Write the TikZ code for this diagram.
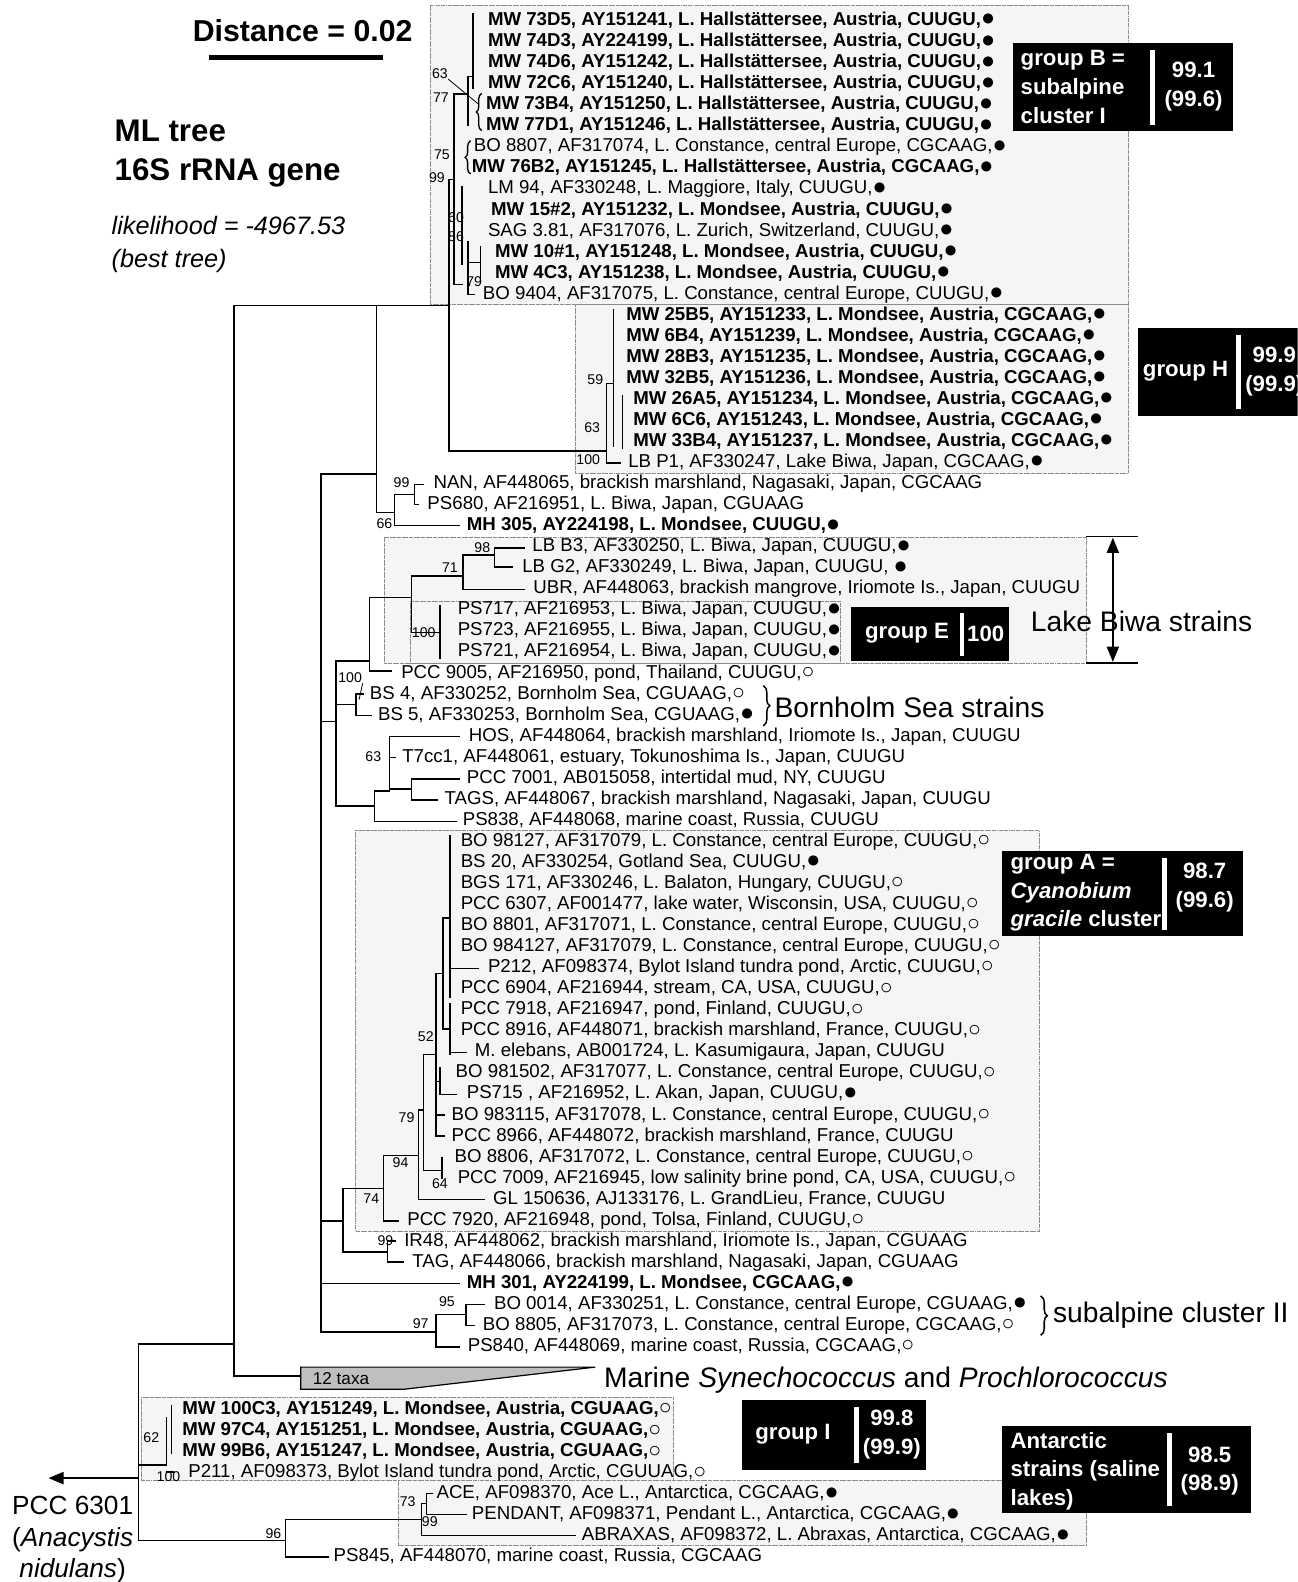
\documentclass[tikz,border=0pt]{standalone}
\usepackage{fontspec}
\setmainfont{Liberation Sans}
\usetikzlibrary{arrows.meta,decorations.pathreplacing}
\newcommand{\cf}{\raisebox{-0.4pt}{\scalebox{1.25}{●}}}
\newcommand{\co}{\raisebox{-0.3pt}{\scalebox{1.15}{○}}}
\begin{document}
\begin{tikzpicture}[x=1pt, y=-1pt, line width=1.4pt, line cap=rect, >={Triangle[length=15pt, width=12pt]},
  rleaf/.style={anchor=west, inner sep=0pt, text height=13pt, text depth=4pt, font=\fontsize{18.5}{20}\selectfont},
  bleaf/.style={rleaf, font=\fontsize{18.5}{20}\selectfont\bfseries},
  boot/.style={inner sep=0pt, font=\fontsize{14}{15}\selectfont},
  shade/.style={draw=black!45, densely dotted, line width=0.7pt, fill=black!4},
  boxtxt/.style={inner sep=0pt, text=white, align=left, font=\fontsize{22}{28.5}\selectfont\bfseries},
  bigtxt/.style={inner sep=0pt, anchor=west, font=\fontsize{28}{30}\selectfont},
  curly/.style={decorate, decoration={brace, amplitude=6pt}, line width=1.5pt}]
\useasboundingbox (0,0) rectangle (1286,1568);
\clip (0,0) rectangle (1286,1568);

\draw[shade] (427,5) rectangle (1118,302);
\draw[shade] (570,302) rectangle (1118,469);
\draw[shade] (381,533) rectangle (1077,657);
\draw[shade] (407,596) rectangle (833,657);
\draw[shade] (352,823) rectangle (1030,1220);
\draw[shade] (140,1385) rectangle (667,1467);
\draw[shade] (395,1467) rectangle (1077,1532);

\node[font=\fontsize{30}{32}\selectfont\bfseries] (dist) at (300,30) {Distance = 0.02};
\draw[line width=4pt, line cap=butt] (207,57) -- (380,57);
\node[anchor=west, align=left, inner sep=0pt, font=\fontsize{31}{39}\selectfont\bfseries] (title) at (113,152) {ML tree\\16S rRNA gene};
\node[anchor=west, align=left, inner sep=0pt, font=\fontsize{25}{33}\selectfont\itshape] (lik) at (110,242) {likelihood = -4967.53\\(best tree)};

\foreach \r/\x/\s/\t in {
  1/483/bleaf/{MW 73D5, AY151241, L. Hallstättersee, Austria, CUUGU,\cf},
  2/483/bleaf/{MW 74D3, AY224199, L. Hallstättersee, Austria, CUUGU,\cf},
  3/483/bleaf/{MW 74D6, AY151242, L. Hallstättersee, Austria, CUUGU,\cf},
  4/483/bleaf/{MW 72C6, AY151240, L. Hallstättersee, Austria, CUUGU,\cf},
  5/481/bleaf/{MW 73B4, AY151250, L. Hallstättersee, Austria, CUUGU,\cf},
  6/481/bleaf/{MW 77D1, AY151246, L. Hallstättersee, Austria, CUUGU,\cf},
  7/469/rleaf/{BO 8807, AF317074, L. Constance, central Europe, CGCAAG,\cf},
  8/467/bleaf/{MW 76B2, AY151245, L. Hallstättersee, Austria, CGCAAG,\cf},
  9/483/rleaf/{LM 94, AF330248, L. Maggiore, Italy, CUUGU,\cf},
  10/486/bleaf/{MW 15\#2, AY151232, L. Mondsee, Austria, CUUGU,\cf},
  11/483/rleaf/{SAG 3.81, AF317076, L. Zurich, Switzerland, CUUGU,\cf},
  12/490/bleaf/{MW 10\#1, AY151248, L. Mondsee, Austria, CUUGU,\cf},
  13/490/bleaf/{MW 4C3, AY151238, L. Mondsee, Austria, CUUGU,\cf},
  14/478/rleaf/{BO 9404, AF317075, L. Constance, central Europe, CUUGU,\cf},
  15/620/bleaf/{MW 25B5, AY151233, L. Mondsee, Austria, CGCAAG,\cf},
  16/620/bleaf/{MW 6B4, AY151239, L. Mondsee, Austria, CGCAAG,\cf},
  17/620/bleaf/{MW 28B3, AY151235, L. Mondsee, Austria, CGCAAG,\cf},
  18/620/bleaf/{MW 32B5, AY151236, L. Mondsee, Austria, CGCAAG,\cf},
  19/627/bleaf/{MW 26A5, AY151234, L. Mondsee, Austria, CGCAAG,\cf},
  20/627/bleaf/{MW 6C6, AY151243, L. Mondsee, Austria, CGCAAG,\cf},
  21/627/bleaf/{MW 33B4, AY151237, L. Mondsee, Austria, CGCAAG,\cf},
  22/622/rleaf/{LB P1, AF330247, Lake Biwa, Japan, CGCAAG,\cf},
  23/429/rleaf/{NAN, AF448065, brackish marshland, Nagasaki, Japan, CGCAAG},
  24/423/rleaf/{PS680, AF216951, L. Biwa, Japan, CGUAAG},
  25/462/bleaf/{MH 305, AY224198, L. Mondsee, CUUGU,\cf},
  26/527/rleaf/{LB B3, AF330250, L. Biwa, Japan, CUUGU,\cf},
  27/517/rleaf/{LB G2, AF330249, L. Biwa, Japan, CUUGU, \cf},
  28/528/rleaf/{UBR, AF448063, brackish mangrove, Iriomote Is., Japan, CUUGU},
  29/453/rleaf/{PS717, AF216953, L. Biwa, Japan, CUUGU,\cf},
  30/453/rleaf/{PS723, AF216955, L. Biwa, Japan, CUUGU,\cf},
  31/453/rleaf/{PS721, AF216954, L. Biwa, Japan, CUUGU,\cf},
  32/397/rleaf/{PCC 9005, AF216950, pond, Thailand, CUUGU,\co},
  33/366/rleaf/{BS 4, AF330252, Bornholm Sea, CGUAAG,\co},
  34/374/rleaf/{BS 5, AF330253, Bornholm Sea, CGUAAG,\cf},
  35/464/rleaf/{HOS, AF448064, brackish marshland, Iriomote Is., Japan, CUUGU},
  36/398/rleaf/{T7cc1, AF448061, estuary, Tokunoshima Is., Japan, CUUGU},
  37/462/rleaf/{PCC 7001, AB015058, intertidal mud, NY, CUUGU},
  38/440/rleaf/{TAGS, AF448067, brackish marshland, Nagasaki, Japan, CUUGU},
  39/458/rleaf/{PS838, AF448068, marine coast, Russia, CUUGU},
  40/456/rleaf/{BO 98127, AF317079, L. Constance, central Europe, CUUGU,\co},
  41/456/rleaf/{BS 20, AF330254, Gotland Sea, CUUGU,\cf},
  42/456/rleaf/{BGS 171, AF330246, L. Balaton, Hungary, CUUGU,\co},
  43/456/rleaf/{PCC 6307, AF001477, lake water, Wisconsin, USA, CUUGU,\co},
  44/456/rleaf/{BO 8801, AF317071, L. Constance, central Europe, CUUGU,\co},
  45/456/rleaf/{BO 984127, AF317079, L. Constance, central Europe, CUUGU,\co},
  46/483/rleaf/{P212, AF098374, Bylot Island tundra pond, Arctic, CUUGU,\co},
  47/456/rleaf/{PCC 6904, AF216944, stream, CA, USA, CUUGU,\co},
  48/456/rleaf/{PCC 7918, AF216947, pond, Finland, CUUGU,\co},
  49/456/rleaf/{PCC 8916, AF448071, brackish marshland, France, CUUGU,\co},
  50/470/rleaf/{M. elebans, AB001724, L. Kasumigaura, Japan, CUUGU},
  51/451/rleaf/{BO 981502, AF317077, L. Constance, central Europe, CUUGU,\co},
  52/462/rleaf/{PS715 , AF216952, L. Akan, Japan, CUUGU,\cf},
  53/447/rleaf/{BO 983115, AF317078, L. Constance, central Europe, CUUGU,\co},
  54/447/rleaf/{PCC 8966, AF448072, brackish marshland, France, CUUGU},
  55/450/rleaf/{BO 8806, AF317072, L. Constance, central Europe, CUUGU,\co},
  56/453/rleaf/{PCC 7009, AF216945, low salinity brine pond, CA, USA, CUUGU,\co},
  57/488/rleaf/{GL 150636, AJ133176, L. GrandLieu, France, CUUGU},
  58/403/rleaf/{PCC 7920, AF216948, pond, Tolsa, Finland, CUUGU,\co},
  59/400/rleaf/{IR48, AF448062, brackish marshland, Iriomote Is., Japan, CGUAAG},
  60/408/rleaf/{TAG, AF448066, brackish marshland, Nagasaki, Japan, CGUAAG},
  61/462/bleaf/{MH 301, AY224199, L. Mondsee, CGCAAG,\cf},
  62/489/rleaf/{BO 0014, AF330251, L. Constance, central Europe, CGUAAG,\cf},
  63/478/rleaf/{BO 8805, AF317073, L. Constance, central Europe, CGCAAG,\co},
  64/463/rleaf/{PS840, AF448069, marine coast, Russia, CGCAAG,\co},
  67/180/bleaf/{MW 100C3, AY151249, L. Mondsee, Austria, CGUAAG,\co},
  68/180/bleaf/{MW 97C4, AY151251, L. Mondsee, Austria, CGUAAG,\co},
  69/180/bleaf/{MW 99B6, AY151247, L. Mondsee, Austria, CGUAAG,\co},
  70/186/rleaf/{P211, AF098373, Bylot Island tundra pond, Arctic, CGUUAG,\co},
  71/432/rleaf/{ACE, AF098370, Ace L., Antarctica, CGCAAG,\cf},
  72/467/rleaf/{PENDANT, AF098371, Pendant L., Antarctica, CGCAAG,\cf},
  73/576/rleaf/{ABRAXAS, AF098372, L. Abraxas, Antarctica, CGCAAG,\cf},
  74/330/rleaf/{PS845, AF448070, marine coast, Russia, CGCAAG}}
  \node[\s] (t\r) at (\x, 20.86*\r) {\t};

\foreach \x/\a/\b in {137/1332/1527, 232/303/1364, 373/303/508, 318/470/1320,
  469/14/88, 464/76/124, 450/93/282, 445/178/447, 458/185/262, 464/240/292, 476/245/276,
  608/307/442, 617/392/444, 601/380/459, 391/490/521, 411/480/500,
  333/655/799, 366/592/665, 408/571/627, 459/550/584, 490/543/562, 436/600/652,
  353/688/709, 371/784/814, 386/730/784, 408/772/793,
  446/828/988, 446/995/1045, 439/910/1020, 436/1058/1085, 432/965/1126, 420/1045/1160,
  438/1147/1168, 415/1100/1189, 380/1145/1210, 384/1230/1251, 340/1178/1241,
  432/1303/1335, 462/1293/1314, 165/1405/1452, 170/1393/1440, 283/1506/1543,
  418/1490/1522, 423/1480/1501}
  \draw (\x,\a) -- (\x,\b);
\foreach \y/\a/\b in {1332/137/232, 303/232/445, 93/450/464, 76/464/469, 178/445/450,
  282/450/458, 260/464/476, 292/464/470, 447/445/601, 380/601/608, 459/601/615,
  470/318/373, 508/373/391, 490/391/411, 480/411/420, 500/411/415, 521/391/455,
  715/318/333, 655/333/366, 592/366/408, 665/366/388, 571/408/459, 627/408/436,
  550/459/490, 584/459/520, 543/490/520, 562/490/508, 698/333/353, 688/353/360,
  709/353/368, 799/333/371, 814/371/452, 784/371/386, 730/386/455, 751/386/392,
  782/386/408, 772/408/455, 793/408/433, 960/446/474, 910/439/446, 1020/439/446,
  1043/446/462, 965/432/439, 1072/432/436, 1085/436/452, 1105/432/440, 1126/432/440,
  1045/420/432, 1160/420/438, 1100/415/420, 1189/415/480, 1145/380/415, 1210/380/395,
  1178/340/380, 1241/340/384, 1230/384/392, 1251/384/400, 1210/318/340, 1272/318/455,
  1320/318/432, 1303/432/462, 1335/432/455, 1293/462/480, 1314/462/470, 1364/232/298,
  1452/137/165, 1459/165/172, 1527/137/283, 1506/283/418, 1543/283/325, 1522/418/570,
  1490/418/423, 1480/423/428, 1501/423/462}
  \draw (\a,\y) -- (\b,\y);

\foreach \n/\x/\y in {63/436/73, 77/437/97, 75/438/153, 99/433/176, 60/452/216, 86/452/235,
  79/470/279, 59/590/376, 63/587/424, 100/583/456, 99/398/478, 66/381/519, 98/478/543,
  71/446/563, 100/420/627, 100/347/672, 63/370/750, 52/422/1027, 79/403/1108, 94/397/1152,
  64/436/1173, 74/368/1188, 99/382/1230, 95/443/1290, 97/417/1312, 62/150/1425, 100/167/1464,
  73/404/1488, 99/426/1508, 96/271/1520}
  \node[boot] (b\x-\y) at (\x,\y) {\n};
\draw[line width=0.8pt] (b436-73.south east) -- (474,103);
\draw[line width=0.8pt] (b347-672.south east) -- (356,693);

\draw[curly, line width=1.3pt, decoration={amplitude=5pt}] (477,129) -- (477,93);
\draw[curly, line width=1.3pt, decoration={amplitude=5pt}] (466,172) -- (466,140);

\filldraw[fill=black!25, line width=1.2pt] (298,1355) -- (590,1355) -- (400,1377) -- (298,1377) -- cycle;
\node[inner sep=0pt, font=\fontsize{17}{18}\selectfont] (taxa) at (338,1366) {12 taxa};
\node[bigtxt] (marine) at (598,1368) {Marine \textit{Synechococcus} and \textit{Prochlorococcus}};

\draw[curly] (757,680) -- (757,719);
\node[bigtxt] (bornholm) at (767,701) {Bornholm Sea strains};
\draw[curly] (1032,1285) -- (1032,1323);
\node[bigtxt] (subII) at (1043,1304) {subalpine cluster II};

\draw (1077,532) -- (1127,532);
\draw (1077,657) -- (1127,657);
\draw[<->] (1103,533) -- (1103,656);
\node[bigtxt] (biwa) at (1021,616) {Lake Biwa strains};

\fill (1004,43) rectangle (1222,130);
\fill[white] (1140,50) rectangle (1145,124);
\node[boxtxt, anchor=west] (gb) at (1011,86) {group B =\\subalpine\\cluster I};
\node[boxtxt, align=center] (gbv) at (1183,86) {99.1\\(99.6)};
\fill (1128,325) rectangle (1300,412);
\fill[white] (1225,332) rectangle (1230,405);
\node[boxtxt] (gh) at (1175,368) {group H};
\node[boxtxt, align=center] (ghv) at (1263,368) {99.9\\(99.9)};
\fill (843,602) rectangle (1000,655);
\fill[white] (951,608) rectangle (955,650);
\node[boxtxt] (ge) at (899,628) {group E};
\node[boxtxt] (gev) at (977,628) {100};
\fill (993,843) rectangle (1232,928);
\fill[white] (1152,850) rectangle (1157,922);
\node[boxtxt, anchor=west] (ga) at (1001,885) {group A =\\\textit{Cyanobium}\\\textit{gracile} cluster};
\node[boxtxt, align=center] (gav) at (1194,880) {98.7\\(99.6)};
\fill (735,1388) rectangle (918,1457);
\fill[white] (846,1395) rectangle (851,1450);
\node[boxtxt] (gi) at (786,1422) {group I};
\node[boxtxt, align=center] (giv) at (884,1422) {99.8\\(99.9)};
\fill (993,1413) rectangle (1240,1500);
\fill[white] (1157,1420) rectangle (1162,1493);
\node[boxtxt, anchor=west] (gant) at (1001,1458) {Antarctic\\strains (saline\\lakes)};
\node[boxtxt, align=center] (gantv) at (1199,1458) {98.5\\(98.9)};

\coordinate (root) at (137,1465);
\draw[->, line width=2pt] (root) -- (48,1465);
\node[align=center, inner sep=0pt, font=\fontsize{26}{31}\selectfont] (outg) at (72,1526) {PCC 6301\\(\textit{Anacystis}\\\textit{nidulans})};
\end{tikzpicture}
\end{document}
